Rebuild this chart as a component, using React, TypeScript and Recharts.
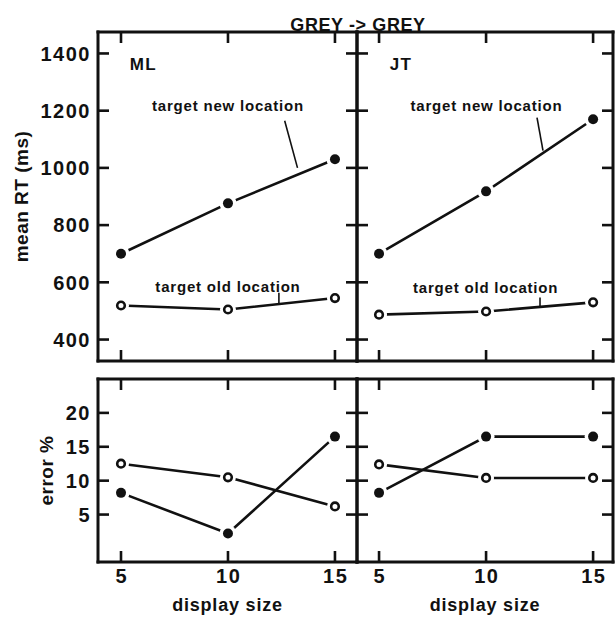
import { LineChart, Line, XAxis, YAxis, ReferenceDot, ReferenceLine } from 'recharts';

const displaySizes = [5, 10, 15];

// mean RT (ms)
const mlRtNew = [700, 876, 1030];
const mlRtOld = [519, 505, 545];
const jtRtNew = [700, 918, 1170];
const jtRtOld = [487, 498, 530];

// error %
const mlErrNew = [8.2, 2.2, 16.5];
const mlErrOld = [12.5, 10.5, 6.2];
const jtErrNew = [8.2, 16.5, 16.5];
const jtErrOld = [12.4, 10.4, 10.4];

const rtTicks = [400, 600, 800, 1000, 1200, 1400];
const errTicks = [5, 10, 15, 20];
const sizeTicks = [5, 10, 15];

const W = 615;
const H = 617;
const FONT = '"Liberation Sans", Arial, Helvetica, sans-serif';
const INK = '#111';
const TICK_LEN = 11;

type Note = { text: string; x: number; y: number; size?: number; spacing?: number };
type Leader = { x1: number; y1: number; x2: number; y2: number };
type Side = 'left' | 'right' | 'top' | 'bottom';

function FilledDot(props: any) {
  const { cx, cy, index } = props;
  return (
    <g key={`f-${index}`}>
      <circle cx={cx} cy={cy} r={8.5} fill="#fff" />
      <circle cx={cx} cy={cy} r={5} fill={INK} />
    </g>
  );
}

function OpenDot(props: any) {
  const { cx, cy, index } = props;
  return (
    <g key={`o-${index}`}>
      <circle cx={cx} cy={cy} r={8} fill="#fff" />
      <circle cx={cx} cy={cy} r={3.8} fill="#fff" stroke={INK} strokeWidth={2.6} />
    </g>
  );
}

// inward tick mark from the frame edge, label (optional) outside the frame
function makeTick(side: Side, showLabel: boolean, edge: number) {
  return (props: any) => {
    const { payload, index } = props;
    const c = Number(payload.coordinate);
    const horizontal = side === 'left' || side === 'right';
    const dir = side === 'left' || side === 'top' ? 1 : -1;
    const line = horizontal
      ? { x1: edge, y1: c, x2: edge + dir * TICK_LEN, y2: c }
      : { x1: c, y1: edge, x2: c, y2: edge + dir * TICK_LEN };
    return (
      <g key={`${side}-${index}`}>
        <line {...line} stroke={INK} strokeWidth={2.6} />
        {showLabel && (
          <text
            x={side === 'bottom' ? c + 0.75 : edge - 7}
            y={side === 'bottom' ? edge + 21 : c}
            dy={side === 'bottom' ? 0 : '0.36em'}
            textAnchor={side === 'bottom' ? 'middle' : 'end'}
            fill={INK}
            fontSize={20}
            fontWeight={700}
            fontFamily={FONT}
            letterSpacing={1.5}
          >
            {payload.value}
          </text>
        )}
      </g>
    );
  };
}

type PanelProps = {
  newLoc: number[];
  oldLoc: number[];
  yDomain: [number, number];
  yTicks: number[];
  xDomain: [number, number];
  margin: { top: number; right: number; bottom: number; left: number };
  leftWidth: number;
  bottomHeight: number;
  showY: boolean;
  showX: boolean;
  yLabel?: string;
  yLabelOffset?: number;
  notes?: Note[];
  leaders?: Leader[];
};

const axisLine = { stroke: INK, strokeWidth: 3, strokeLinecap: 'square' as const };

function Panel(p: PanelProps) {
  const rows = displaySizes.map((s, i) => ({ size: s, newLoc: p.newLoc[i], oldLoc: p.oldLoc[i] }));
  const left = p.margin.left + p.leftWidth;
  const right = W - p.margin.right - 2;
  const top = p.margin.top + 2;
  const bottom = H - p.margin.bottom - p.bottomHeight;
  return (
    <div style={{ position: 'absolute', left: 0, top: 0 }}>
      <LineChart width={W} height={H} data={rows} margin={p.margin}>
        <XAxis
          dataKey="size"
          type="number"
          domain={p.xDomain}
          allowDataOverflow
          ticks={sizeTicks}
          height={p.bottomHeight}
          axisLine={axisLine}
          tickLine={false}
          tickSize={0}
          tick={makeTick('bottom', p.showX, bottom)}
          label={
            p.showX
              ? { value: 'display size', position: 'bottom', offset: 6, fill: INK, fontSize: 18, fontWeight: 700, fontFamily: FONT, letterSpacing: 0.8 }
              : undefined
          }
        />
        <XAxis
          xAxisId="top"
          orientation="top"
          dataKey="size"
          type="number"
          domain={p.xDomain}
          allowDataOverflow
          ticks={sizeTicks}
          height={2}
          axisLine={axisLine}
          tickLine={false}
          tickSize={0}
          tick={makeTick('top', false, top)}
        />
        <YAxis
          type="number"
          domain={p.yDomain}
          allowDataOverflow
          ticks={p.yTicks}
          width={p.leftWidth}
          axisLine={axisLine}
          tickLine={false}
          tickSize={0}
          tick={makeTick('left', p.showY, left)}
          label={
            p.yLabel
              ? {
                  value: p.yLabel,
                  angle: -90,
                  position: 'insideLeft',
                  offset: p.yLabelOffset,
                  fill: INK,
                  fontSize: 19,
                  fontWeight: 700,
                  fontFamily: FONT,
                  letterSpacing: 0.5,
                  style: { textAnchor: 'middle' },
                }
              : undefined
          }
        />
        <YAxis
          yAxisId="right"
          orientation="right"
          type="number"
          domain={p.yDomain}
          allowDataOverflow
          ticks={p.yTicks}
          width={2}
          axisLine={axisLine}
          tickLine={false}
          tickSize={0}
          tick={makeTick('right', false, right)}
        />
        {(p.leaders || []).map((l, i) => (
          <ReferenceLine
            key={`l${i}`}
            segment={[
              { x: l.x1, y: l.y1 },
              { x: l.x2, y: l.y2 },
            ]}
            stroke={INK}
            strokeWidth={1.6}
          />
        ))}
        <Line
          dataKey="newLoc"
          type="linear"
          stroke={INK}
          strokeWidth={2.6}
          dot={FilledDot}
          activeDot={false}
          isAnimationActive={false}
        />
        <Line
          dataKey="oldLoc"
          type="linear"
          stroke={INK}
          strokeWidth={2.6}
          dot={OpenDot}
          activeDot={false}
          isAnimationActive={false}
        />
        {(p.notes || []).map((n, i) => (
          <ReferenceDot
            key={`n${i}`}
            x={n.x}
            y={n.y}
            r={0}
            fill="none"
            stroke="none"
            label={{
              value: n.text,
              position: 'center',
              fill: INK,
              fontSize: n.size ?? 15,
              fontWeight: 700,
              fontFamily: FONT,
              letterSpacing: n.spacing ?? 0.8,
            }}
          />
        ))}
      </LineChart>
    </div>
  );
}

const leftX: [number, number] = [3.925, 16.03];
const rightX: [number, number] = [3.97, 15.93];
const rtDomain: [number, number] = [325, 1475];
const errDomain: [number, number] = [-2, 25];

export default function App() {
  return (
    <div style={{ position: 'absolute', left: 0, top: 0, width: W, height: H, background: '#fff', fontFamily: FONT }}>
      <Panel
        newLoc={mlRtNew}
        oldLoc={mlRtOld}
        yDomain={rtDomain}
        yTicks={rtTicks}
        xDomain={leftX}
        margin={{ top: 30, right: 256, bottom: 254, left: 0 }}
        leftWidth={98}
        bottomHeight={2}
        showY
        showX={false}
        yLabel="mean RT (ms)"
        yLabelOffset={21}
        notes={[
          { text: 'ML', x: 6.05, y: 1365, size: 17, spacing: 1.5 },
          { text: 'target new location', x: 10, y: 1218 },
          { text: 'target old location', x: 10, y: 585 },
        ]}
        leaders={[
          { x1: 12.65, y1: 1165, x2: 13.25, y2: 1000 },
          { x1: 12.38, y1: 564, x2: 12.38, y2: 526 },
        ]}
      />
      <Panel
        newLoc={jtRtNew}
        oldLoc={jtRtOld}
        yDomain={rtDomain}
        yTicks={rtTicks}
        xDomain={rightX}
        margin={{ top: 30, right: 0, bottom: 254, left: 355 }}
        leftWidth={2}
        bottomHeight={2}
        showY={false}
        showX={false}
        notes={[
          { text: 'JT', x: 6.03, y: 1365, size: 17, spacing: 1.5 },
          { text: 'target new location', x: 10.02, y: 1218 },
          { text: 'target old location', x: 9.98, y: 582 },
        ]}
        leaders={[
          { x1: 12.38, y1: 1176, x2: 12.66, y2: 1060 },
          { x1: 12.52, y1: 547, x2: 12.52, y2: 517 },
        ]}
      />
      <Panel
        newLoc={mlErrNew}
        oldLoc={mlErrOld}
        yDomain={errDomain}
        yTicks={errTicks}
        xDomain={leftX}
        margin={{ top: 377, right: 256, bottom: 25, left: 0 }}
        leftWidth={98}
        bottomHeight={30}
        showY
        showX
        yLabel="error %"
        yLabelOffset={46}
      />
      <Panel
        newLoc={jtErrNew}
        oldLoc={jtErrOld}
        yDomain={errDomain}
        yTicks={errTicks}
        xDomain={rightX}
        margin={{ top: 377, right: 0, bottom: 25, left: 355 }}
        leftWidth={2}
        bottomHeight={30}
        showY={false}
        showX
      />
      <div
        style={{
          position: 'absolute',
          left: 258,
          top: 16,
          width: 200,
          textAlign: 'center',
          fontSize: 18,
          lineHeight: '18px',
          fontWeight: 700,
          letterSpacing: 0.6,
          color: INK,
        }}
      >
        GREY -&gt; GREY
      </div>
    </div>
  );
}
